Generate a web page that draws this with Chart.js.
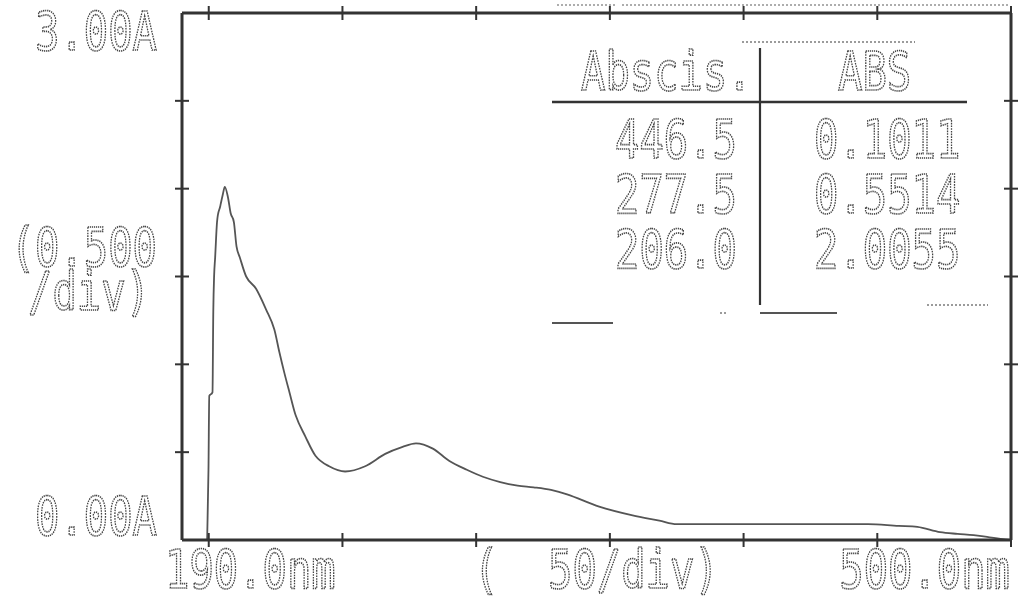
<!DOCTYPE html>
<html>
<head>
<meta charset="utf-8">
<script src="https://cdn.jsdelivr.net/npm/chart.js@4.4.1/dist/chart.umd.min.js"></script>
<style>
  html, body { margin: 0; padding: 0; background: #ffffff; }
  #c { display: block; }
</style>
</head>
<body>
<canvas id="c" width="1019" height="601"></canvas>
<script>
// ---- data ----
const wavelength = [199.4, 199.9, 200.2, 201.4, 201.7, 202.0, 202.4, 203.1, 204.3, 205.3, 206.0, 207.2, 208.2, 209.4, 210.4, 211.6, 214.0, 217.7, 221.5, 224.5, 226.4, 228.3, 230.2, 232.5, 236.1, 239.9, 245.0, 251.0, 258.5, 266.0, 272.5, 277.5, 283.8, 290.0, 296.5, 302.5, 309.0, 315.5, 321.5, 328.0, 334.0, 346.0, 358.5, 368.5, 375.0, 385.0, 396.0, 410.0, 421.0, 435.0, 446.5, 458.0, 465.0, 473.5, 480.0, 486.0, 492.0, 497.0, 500.0];
const absorbance = [0.00, 0.40, 0.82, 0.84, 1.30, 1.50, 1.61, 1.81, 1.90, 1.97, 2.01, 1.95, 1.86, 1.81, 1.67, 1.61, 1.50, 1.43, 1.31, 1.20, 1.07, 0.95, 0.84, 0.71, 0.59, 0.48, 0.42, 0.39, 0.42, 0.49, 0.53, 0.55, 0.52, 0.45, 0.40, 0.36, 0.33, 0.31, 0.30, 0.285, 0.26, 0.19, 0.14, 0.11, 0.09, 0.09, 0.09, 0.09, 0.09, 0.09, 0.09, 0.08, 0.075, 0.045, 0.035, 0.028, 0.015, 0.005, 0.00];

const xTicks = [200, 250, 300, 350, 400, 450, 500];
const yTicks = [0.5, 1.0, 1.5, 2.0, 2.5];

const yTopLabel = '3.00A';
const yBottomLabel = '0.00A';
const yDivLabel = ['(0.500', '/div)'];
const xLeftLabel = '190.0nm';
const xDivLabel = ['(', '50/div)'];
const xRightLabel = '500.0nm';

const tableHeader = ['Abscis.', 'ABS'];
const tableAbscissa = ['446.5', '277.5', '206.0'];
const tableAbs = ['0.1011', '0.5514', '2.0055'];

// ---- drawing helpers ----
const INK = '#333333';
function txt(ctx, s, x, y, align) {
  ctx.save();
  ctx.translate(x, y);
  ctx.scale(0.75, 1);
  ctx.font = '54px "DejaVu Sans Mono"';
  ctx.textAlign = align;
  ctx.textBaseline = 'alphabetic';
  ctx.strokeStyle = '#444';
  ctx.lineWidth = 1.7;
  ctx.setLineDash([1.6, 1.1]);
  ctx.strokeText(s, 0, 0);
  ctx.restore();
}
function seg(ctx, x1, y1, x2, y2, w, col, dash) {
  ctx.save();
  ctx.beginPath();
  ctx.strokeStyle = col || INK;
  ctx.lineWidth = w || 2.5;
  ctx.setLineDash(dash || []);
  ctx.moveTo(x1, y1);
  ctx.lineTo(x2, y2);
  ctx.stroke();
  ctx.restore();
}

const framePlugin = {
  id: 'frame',
  afterDatasetsDraw(chart) {
    const ctx = chart.ctx;
    const xs = chart.scales.x, ys = chart.scales.y;
    const L = xs.getPixelForValue(190), R = xs.getPixelForValue(500);
    const T = ys.getPixelForValue(3), B = ys.getPixelForValue(0);
    // frame
    seg(ctx, L, T, R, T, 3);
    seg(ctx, L, B, R, B, 3);
    seg(ctx, L, T, L, B, 3);
    seg(ctx, R, T, R, B, 3);
    // faint dotted line above the frame
    seg(ctx, 557, 5, 615, 5, 1.2, '#777', [2, 2]);
    seg(ctx, 622, 5, 1010, 5, 1.2, '#777', [2, 2]);
    // tick crosses
    xTicks.forEach(v => {
      const p = xs.getPixelForValue(v);
      seg(ctx, p, T - 7, p, T + 7, 2);
      seg(ctx, p, B - 7, p, B + 7, 2);
    });
    yTicks.forEach(v => {
      const p = ys.getPixelForValue(v);
      seg(ctx, L - 7, p, L + 7, p, 2);
      seg(ctx, R - 7, p, R + 7, p, 2);
    });
    // axis texts
    txt(ctx, yTopLabel, 157, 50, 'right');
    txt(ctx, yDivLabel[0], 157, 266, 'right');
    txt(ctx, yDivLabel[1], 150, 310, 'right');
    txt(ctx, yBottomLabel, 157, 535, 'right');
    txt(ctx, xLeftLabel, 165, 588, 'left');
    txt(ctx, xDivLabel[0], 474, 588, 'left');
    txt(ctx, xDivLabel[1], 548, 588, 'left');
    txt(ctx, xRightLabel, 1010, 588, 'right');
    // peak table
    seg(ctx, 742, 42, 915, 42, 1.3, '#666', [2, 2]);
    seg(ctx, 552, 102, 967, 102, 2.5);
    seg(ctx, 760, 48, 760, 305, 2.2);
    seg(ctx, 760, 313, 837, 313, 1.8, '#555');
    seg(ctx, 927, 305, 988, 305, 1.3, '#666', [2, 2]);
    seg(ctx, 552, 323, 613, 323, 1.8, '#555');
    seg(ctx, 720, 313, 727, 313, 1.3, '#666', [2, 2]);
    txt(ctx, tableHeader[0], 581, 90, 'left');
    txt(ctx, tableHeader[1], 838, 90, 'left');
    const rows = [158, 213, 268];
    rows.forEach((y, i) => {
      txt(ctx, tableAbscissa[i], 737, y, 'right');
      txt(ctx, tableAbs[i], 814, y, 'left');
    });
  }
};

new Chart(document.getElementById('c'), {
  type: 'line',
  data: {
    datasets: [{
      data: wavelength.map((w, i) => ({ x: w, y: absorbance[i] })),
      borderColor: '#555555',
      borderWidth: 1.8,
      pointRadius: 0,
      fill: false,
      cubicInterpolationMode: 'monotone'
    }]
  },
  options: {
    responsive: false,
    animation: false,
    devicePixelRatio: 1,
    layout: { padding: { left: 182, right: 8, top: 13, bottom: 61 } },
    scales: {
      x: { type: 'linear', min: 190, max: 500, display: false },
      y: { type: 'linear', min: 0, max: 3, display: false }
    },
    plugins: { legend: { display: false }, tooltip: { enabled: false } }
  },
  plugins: [framePlugin]
});
</script>
</body>
</html>
